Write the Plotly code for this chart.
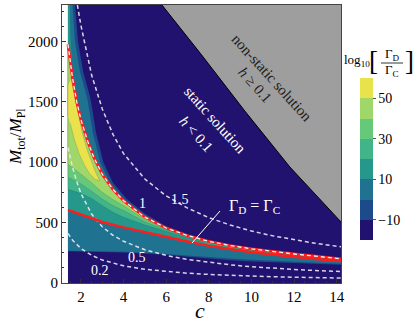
import plotly.graph_objects as go

# axis extent of the computed region
C_MIN, C_MAX = 1.39, 14.2
M_MAX = 2300

# colour bands of log10(Gamma_D / Gamma_C)
band_levels = [-20, -10, 0, 10, 20, 30, 40, 50, 60]
band_colors = ["#22126f", "#1c4b8b", "#1f7290", "#25978b", "#41b489",
               "#66c879", "#a0d76b", "#e8e24c"]
cbar_ticks = [-10, 10, 30, 50]

# upper red curve (Gamma_D = Gamma_C, coincides with h = 1)
r1_c = [1.39, 1.6, 1.8, 2.0, 2.3, 2.6, 3.0, 3.5, 4.0, 5.0, 6.0, 7.0, 8.0, 9.0, 10, 11, 12, 13, 14.2]
r1_m = [1975, 1700, 1500, 1350, 1180, 1040, 900, 775, 680, 545, 455, 392, 345, 310, 283, 260, 240, 222, 200]

# lower red curve
r2_c = [1.39, 2, 3, 4, 5, 6, 7, 8, 9, 10, 11, 12, 13, 14.2]
r2_m = [605, 565, 505, 460, 420, 380, 343, 307, 278, 255, 235, 216, 199, 182]

# lower edge of the coloured region
bot_c = [1.39, 3, 4, 5, 6, 7, 8, 9, 10, 11, 12, 13, 14.2]
bot2_m = [262, 256, 252, 246, 234, 218, 200, 188, 178, 170, 163, 157, 150]
bot3_m = [266, 261, 258, 253, 243, 230, 215, 203, 192, 183, 175, 168, 160]

# outer (upper right) edges of the low bands
out2_c = [1.72, 1.86, 2.1, 2.45, 2.7, 3.05, 3.5, 4.16, 5.0, 6.0, 7.0, 8, 9, 10, 11, 12, 13, 14.2]
out2_m = [2300, 2000, 1750, 1525, 1250, 1000, 830, 692, 572, 470, 402, 354, 318, 290, 266, 246, 228, 209]
out3_c = [1.6, 1.72, 1.95, 2.3, 2.55, 2.9, 3.35, 4.0, 4.9, 5.9, 6.9, 8, 9, 10, 11, 12, 13, 14.2]
out3_m = [2300, 2000, 1750, 1525, 1250, 1000, 835, 695, 570, 468, 400, 351, 315, 287, 263, 243, 225, 205]
up4_c = [1.48, 1.5, 1.6, 1.8, 2.0, 2.3, 2.6, 3.0, 3.5, 4.0, 5.0, 6.0, 7.0, 8.0, 9.0, 10, 11, 12, 13, 14.2]
up4_m = [2300, 2050, 1740, 1535, 1380, 1205, 1062, 918, 790, 693, 555, 463, 399, 351, 315, 288, 265, 244, 226, 203]

# lower edges of the high bands
lo_c = [1.39, 2, 2.5, 3, 3.5, 4, 5, 6, 7, 8, 9, 10, 11, 12, 13, 14.2]
lo5_m = [775, 740, 700, 640, 585, 545, 480, 425, 373, 322, 290, 265, 244, 226, 210, 192]
lo6_m = [875, 820, 760, 695, 640, 600, 505, 440, 385, 335, 302, 275, 253, 234, 217, 196]
lo7_m = [983, 900, 830, 750, 690, 640, 525, 448, 389, 341, 306, 280, 257, 237, 219, 198]

# yellow core
y8_c = [1.39, 1.39, 1.52, 1.68, 1.85, 2.05, 2.3, 2.5, 2.7, 2.88, 2.65, 2.4, 2.15, 1.9, 1.68, 1.5]
y8_m = [1380, 1640, 1700, 1560, 1410, 1250, 1095, 995, 910, 845, 860, 905, 980, 1075, 1195, 1320]

# dashed h contours
h15_c = [1.83, 2.0, 2.5, 3, 3.5, 4, 5, 6, 7, 8, 9, 10, 11, 12, 13, 14.2]
h15_m = [2300, 2130, 1720, 1440, 1230, 1070, 860, 720, 620, 540, 480, 430, 390, 357, 328, 300]
h05_c = [1.39, 1.6, 1.8, 2.0, 2.5, 3.0, 3.5, 4, 5, 6, 7, 8, 9, 10, 11, 12, 13, 14.2]
h05_m = [1120, 960, 840, 740, 570, 465, 395, 345, 275, 228, 195, 170, 150, 135, 122, 112, 103, 95]
h02_c = [1.39, 1.6, 2, 2.5, 3, 4, 5, 6, 7, 8, 9, 10, 11, 12, 13, 14.2]
h02_m = [410, 355, 285, 230, 190, 142, 113, 95, 81, 71, 63, 57, 52, 48, 44, 41]

# boundary of the non-static region
ns_c = [5.8, 7.6, 9.7, 11.8, 14.2]
ns_m = [2300, 1900, 1420, 960, 505]

SERIF = "Liberation Serif"


def px(x, y):
    # pixel position in the 416x327 picture -> paper coordinates
    return (x - 62) / 279, (283 - y) / 278


def area(xs, ys, color, edge=False):
    return go.Scatter(x=xs, y=ys, mode="lines", fill="toself", fillcolor=color,
                      line=dict(width=0.6 if edge else 0,
                                color="rgba(40,40,40,0.25)" if edge else color),
                      hoverinfo="skip", showlegend=False)


def curve(xs, ys, color, width, dash="solid"):
    return go.Scatter(x=xs, y=ys, mode="lines",
                      line=dict(color=color, width=width, dash=dash),
                      hoverinfo="skip", showlegend=False)


fig = go.Figure()

fig.add_trace(area([C_MIN, C_MAX, C_MAX, C_MIN], [0, 0, M_MAX, M_MAX], band_colors[0]))
fig.add_trace(area([C_MIN, C_MIN] + out2_c + bot_c[::-1],
                   [bot2_m[0], M_MAX] + out2_m + bot2_m[::-1], band_colors[1]))
fig.add_trace(area([C_MIN, C_MIN] + out3_c + bot_c[::-1],
                   [bot3_m[0], M_MAX] + out3_m + bot3_m[::-1], band_colors[2]))
fig.add_trace(area([C_MIN, C_MIN] + up4_c + r2_c[::-1],
                   [r2_m[0], M_MAX] + up4_m + r2_m[::-1], band_colors[3]))
for lo_m, col in [(lo5_m, band_colors[4]), (lo6_m, band_colors[5]), (lo7_m, band_colors[6])]:
    fig.add_trace(area([C_MIN] + r1_c + lo_c[::-1],
                       [lo_m[0]] + r1_m + lo_m[::-1], col, edge=True))
fig.add_trace(area(y8_c, y8_m, band_colors[7], edge=True))

dash_col = "rgba(235,235,245,0.9)"
fig.add_trace(curve(h02_c, h02_m, dash_col, 1.5, "4px,3px"))
fig.add_trace(curve(h05_c, h05_m, dash_col, 1.5, "4px,3px"))
fig.add_trace(curve(h15_c, h15_m, dash_col, 1.5, "4px,3px"))
fig.add_trace(curve(r2_c, r2_m, "#ff1c1c", 2.5))
fig.add_trace(curve(r1_c, r1_m, "#ff1c1c", 2.8))
fig.add_trace(curve(r1_c, r1_m, "#f4f4f4", 1.3, "4px,3px"))

# non-static region
fig.add_trace(area(ns_c + [C_MAX], ns_m + [M_MAX], "#9e9e9e"))
fig.add_trace(curve(ns_c, ns_m, "black", 1))

# colour bar
n = len(band_colors)
cscale = []
for i, col in enumerate(band_colors):
    cscale += [[i / n, col], [(i + 1) / n, col]]
cx, cy = px(360, 78)
fig.add_trace(go.Scatter(
    x=[None], y=[None], mode="markers", showlegend=False, hoverinfo="skip",
    marker=dict(color=[0], cmin=band_levels[0], cmax=band_levels[-1], colorscale=cscale,
                showscale=True,
                colorbar=dict(x=cx, xanchor="left", y=cy, yanchor="top",
                              len=162, lenmode="pixels", thickness=13,
                              thicknessmode="pixels", outlinewidth=0,
                              tickvals=cbar_ticks, ticks="outside", ticklen=3,
                              tickcolor="#555", xpad=0, ypad=0,
                              tickfont=dict(family=SERIF, size=14, color="black")))))

ann = []


def text(x, y, s, size=14, color="white", angle=0):
    ax, ay = px(x, y)
    ann.append(dict(x=ax, y=ay, xref="paper", yref="paper", text=s, showarrow=False,
                    textangle=angle, xanchor="center", yanchor="middle",
                    font=dict(family=SERIF, size=size, color=color)))


text(272, 78, "non-static solution", 15, "#222", 48)
text(255, 85, "<i>h</i> ≥ 0.1", 15, "#222", 48)
text(215, 120, "static solution", 15, "white", 48)
text(196, 134, "<i>h</i> < 0.1", 15, "white", 48)
text(180, 199, "1.5")
text(142, 203, "1")
text(137, 257, "0.5")
text(100, 270, "0.2")
text(254, 207, "Γ<sub>D</sub> = Γ<sub>C</sub>", 16)
text(200, 310, "<i>c</i>", 22, "black")
text(17, 137, "<i>M</i><sub>tot</sub>/<i>M</i><sub>Pl</sub>", 17, "black", -90)
text(357, 61, "log<sub>10</sub>", 13, "black")
text(374, 61, "[", 27, "black")
text(409, 61, "]", 27, "black")
text(392, 54, "Γ<sub>D</sub>", 13, "black")
text(392, 71, "Γ<sub>C</sub>", 13, "black")

shapes = []
x0, y0 = px(220, 211)
x1, y1 = px(192, 243)
shapes.append(dict(type="line", xref="paper", yref="paper", x0=x0, y0=y0, x1=x1, y1=y1,
                   line=dict(color="white", width=1)))
x0, y0 = px(381, 63)
x1, y1 = px(403, 63)
shapes.append(dict(type="line", xref="paper", yref="paper", x0=x0, y0=y0, x1=x1, y1=y1,
                   line=dict(color="black", width=0.8)))

axis_common = dict(showgrid=False, zeroline=False, showline=True, linecolor="#444",
                   linewidth=1, mirror=True, ticks="inside", ticklen=4, tickcolor="#333",
                   tickfont=dict(family=SERIF, size=15, color="black"))
fig.update_layout(
    width=416, height=327,
    margin=dict(l=62, r=75, t=5, b=44),
    paper_bgcolor="white", plot_bgcolor="white",
    xaxis=dict(range=[1.11, C_MAX], tickvals=[2, 4, 6, 8, 10, 12, 14],
               minor=dict(dtick=0.5, tick0=0, ticks="inside", ticklen=2, tickcolor="#333"),
               **axis_common),
    yaxis=dict(range=[0, M_MAX], tickvals=[0, 500, 1000, 1500, 2000],
               minor=dict(dtick=125, tick0=0, ticks="inside", ticklen=2, tickcolor="#333"),
               **axis_common),
    annotations=ann, shapes=shapes,
)

# the page keeps the browser's default body margin otherwise
fig.write_html("out.html", config={"displayModeBar": False},
               post_script="document.body.style.margin = '0';")
